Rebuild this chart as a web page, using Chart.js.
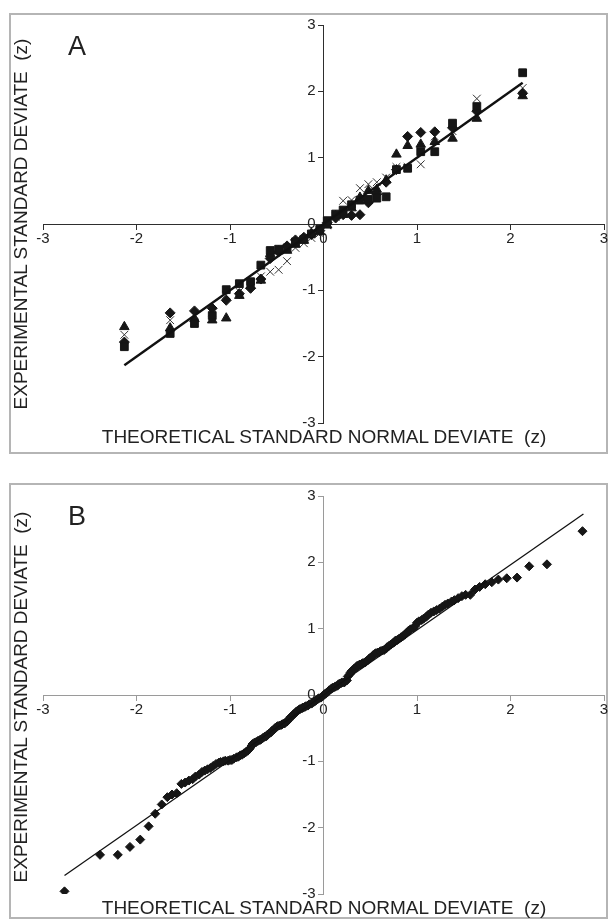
<!DOCTYPE html>
<html>
<head>
<meta charset="utf-8">
<script src="https://cdn.jsdelivr.net/npm/chart.js@4.4.0/dist/chart.umd.min.js"></script>
<style>
  html, body { margin: 0; padding: 0; background: #fff; }
  body { width: 614px; height: 921px; position: relative; overflow: hidden;
         font-family: "Liberation Sans", Arial, Helvetica, sans-serif; color: #222; }
  .panel { position: absolute; left: 9px; width: 599px; border: 2px solid #b5b5b5; box-sizing: border-box; }
  #boxA { top: 13px; height: 441px; }
  #boxB { top: 483px; height: 436px; }
  .cv { position: absolute; left: 0; }
  #wrapA { top: 0; width: 614px; height: 460px; }
  #wrapB { top: 470px; width: 614px; height: 451px; }
  .lbl { position: absolute; white-space: pre; transform: translate(-50%, -50%); }
  .letter { font-size: 27px; }
  .xt { font-size: 19px; }
  .yt { font-size: 19px; transform: translate(-50%, -50%) rotate(-90deg); }
</style>
</head>
<body>
<div class="panel" id="boxA"></div>
<div class="panel" id="boxB"></div>
<div class="cv" id="wrapA"><canvas id="chartA" width="614" height="460"></canvas></div>
<div class="cv" id="wrapB"><canvas id="chartB" width="614" height="451"></canvas></div>

<div class="lbl letter" style="left:77px; top:46px;">A</div>
<div class="lbl yt" style="left:21px; top:224px;">EXPERIMENTAL STANDARD DEVIATE  (z)</div>
<div class="lbl xt" style="left:324px; top:437px;">THEORETICAL STANDARD NORMAL DEVIATE  (z)</div>

<div class="lbl letter" style="left:77px; top:516px;">B</div>
<div class="lbl yt" style="left:21px; top:697px;">EXPERIMENTAL STANDARD DEVIATE  (z)</div>
<div class="lbl xt" style="left:324px; top:908px;">THEORETICAL STANDARD NORMAL DEVIATE  (z)</div>

<script>
// ---------- Panel A data ----------
const aX = [-2.13,-1.64,-1.38,-1.19,-1.04,-0.90,-0.78,-0.67,-0.57,-0.48,-0.39,-0.30,-0.21,-0.13,-0.04,
             0.04, 0.13, 0.21, 0.30, 0.39, 0.48, 0.57, 0.67, 0.78, 0.90, 1.04, 1.19, 1.38, 1.64, 2.13];
const aDiamond = [-1.78,-1.34,-1.31,-1.27,-1.15,-1.05,-0.97,-0.83,-0.52,-0.42,-0.33,-0.24,-0.20,-0.16,-0.10,
                   0.02, 0.09, 0.14, 0.13, 0.14, 0.32, 0.45, 0.63, 0.82, 1.32, 1.38, 1.39, 1.45, 1.70, 1.97];
const aSquare  = [-1.85,-1.65,-1.50,-1.38,-0.99,-0.90,-0.87,-0.62,-0.40,-0.38,-0.36,-0.27,-0.23,-0.15,-0.08,
                   0.05, 0.15, 0.21, 0.29, 0.36, 0.37, 0.39, 0.41, 0.82, 0.84, 1.09, 1.09, 1.52, 1.77, 2.28];
const aTriangle= [-1.55,-1.57,-1.43,-1.45,-1.42,-1.08,-0.93,-0.85,-0.45,-0.41,-0.40,-0.31,-0.25,-0.14,-0.12,
                  -0.02, 0.12, 0.14, 0.24, 0.40, 0.50, 0.52, 0.66, 1.05, 1.18, 1.20, 1.24, 1.29, 1.59, 1.93];
const aCross   = [-1.67,-1.45,-1.37,-1.33,-1.07,-1.02,-0.90,-0.79,-0.72,-0.69,-0.56,-0.36,-0.29,-0.21,-0.14,
                  -0.02, 0.11, 0.35, 0.36, 0.54, 0.60, 0.63, 0.70, 0.86, 0.86, 0.90, 1.32, 1.40, 1.89, 2.05];
const aLineX = [-2.13, 2.13];
const aLineY = [-2.13, 2.13];

// ---------- Panel B data ----------
const bX = [-2.77,-2.39,-2.20,-2.07,-1.96,-1.87,-1.80,-1.73,-1.67,-1.62,-1.57,-1.52,-1.48,-1.44,-1.40,-1.37,-1.33,-1.30,
            -1.27,-1.24,-1.21,-1.18,-1.15,-1.12,-1.10,-1.07,-1.05,-1.02,-1.00,-0.98,-0.96,-0.93,-0.91,-0.89,-0.87,-0.85,
            -0.83,-0.81,-0.79,-0.77,-0.76,-0.74,-0.72,-0.70,-0.68,-0.67,-0.65,-0.63,-0.61,-0.60,-0.58,-0.56,-0.55,-0.53,
            -0.52,-0.50,-0.49,-0.47,-0.45,-0.44,-0.42,-0.41,-0.39,-0.38,-0.36,-0.35,-0.33,-0.32,-0.30,-0.29,-0.28,-0.26,
            -0.25,-0.23,-0.22,-0.20,-0.19,-0.17,-0.16,-0.15,-0.13,-0.12,-0.10,-0.09,-0.08,-0.06,-0.05,-0.03,-0.02,-0.01,
             0.01, 0.02, 0.03, 0.05, 0.06, 0.08, 0.09, 0.10, 0.12, 0.13, 0.15, 0.16, 0.17, 0.19, 0.20, 0.22, 0.23, 0.25,
             0.26, 0.28, 0.29, 0.30, 0.32, 0.33, 0.35, 0.36, 0.38, 0.39, 0.41, 0.42, 0.44, 0.45, 0.47, 0.49, 0.50, 0.52,
             0.53, 0.55, 0.56, 0.58, 0.60, 0.61, 0.63, 0.65, 0.67, 0.68, 0.70, 0.72, 0.74, 0.76, 0.77, 0.79, 0.81, 0.83,
             0.85, 0.87, 0.89, 0.91, 0.93, 0.96, 0.98, 1.00, 1.02, 1.05, 1.07, 1.10, 1.12, 1.15, 1.18, 1.21, 1.24, 1.27,
             1.30, 1.33, 1.37, 1.40, 1.44, 1.48, 1.52, 1.57, 1.62, 1.67, 1.73, 1.80, 1.87, 1.96, 2.07, 2.20, 2.39, 2.77];
const bY = [-2.96,-2.41,-2.41,-2.29,-2.18,-1.98,-1.79,-1.65,-1.54,-1.50,-1.48,-1.34,-1.32,-1.29,-1.27,-1.23,-1.20,-1.16,
            -1.14,-1.12,-1.10,-1.07,-1.04,-1.02,-1.01,-1.00,-0.99,-0.99,-0.98,-0.98,-0.96,-0.94,-0.93,-0.91,-0.90,-0.88,
            -0.86,-0.84,-0.81,-0.77,-0.74,-0.72,-0.71,-0.69,-0.68,-0.67,-0.65,-0.63,-0.62,-0.60,-0.58,-0.56,-0.54,-0.52,
            -0.50,-0.48,-0.47,-0.46,-0.45,-0.44,-0.43,-0.42,-0.40,-0.38,-0.35,-0.33,-0.31,-0.29,-0.27,-0.25,-0.24,-0.22,
            -0.21,-0.20,-0.19,-0.18,-0.17,-0.16,-0.15,-0.14,-0.13,-0.12,-0.10,-0.09,-0.08,-0.06,-0.05,-0.04,-0.03,-0.02,
             0.01, 0.02, 0.03, 0.05, 0.07, 0.09, 0.10, 0.11, 0.12, 0.13, 0.14, 0.16, 0.17, 0.18, 0.19, 0.19, 0.20, 0.22,
             0.28, 0.31, 0.34, 0.36, 0.38, 0.40, 0.42, 0.44, 0.45, 0.46, 0.47, 0.48, 0.49, 0.50, 0.52, 0.55, 0.56, 0.58,
             0.60, 0.62, 0.63, 0.64, 0.65, 0.66, 0.67, 0.68, 0.70, 0.72, 0.74, 0.76, 0.78, 0.80, 0.82, 0.83, 0.85, 0.87,
             0.89, 0.91, 0.94, 0.97, 0.99, 1.01, 1.04, 1.09, 1.11, 1.13, 1.15, 1.18, 1.21, 1.24, 1.26, 1.28, 1.30, 1.33,
             1.36, 1.38, 1.41, 1.43, 1.46, 1.49, 1.51, 1.51, 1.59, 1.63, 1.67, 1.70, 1.74, 1.76, 1.77, 1.94, 1.97, 2.47];
const bLineX = [-2.77, 2.78];
const bLineY = [-2.72, 2.73];

const axisTicks = [-3, -2, -1, 0, 1, 2, 3];

// ---------- helpers ----------
const zip = (xs, ys) => xs.map((x, i) => ({ x: x, y: ys[i] }));
const INK = '#161616';
const FONT = { family: '"Liberation Sans", Arial, sans-serif', size: 15 };

// y labels of a centre-positioned axis sit flush on the axis line; move them left of the tick marks
const yLabelShift = {
  id: 'yLabelShift',
  beforeDraw(chart) {
    const s = chart.scales.y;
    if (!s || typeof s._computeLabelItems !== 'function') return;
    const items = s._computeLabelItems(chart.chartArea);
    items.forEach(it => { if (it.options && it.options.translation) it.options.translation[0] -= 8; });
    s._labelItems = items;
  }
};

function scalesFor(axisColor) {
  const common = {
    type: 'linear', min: -3, max: 3,
    afterBuildTicks: (s) => { s.ticks = axisTicks.map(v => ({ value: v })); },
    grid: { display: true, drawOnChartArea: false, drawTicks: true, tickLength: 5, color: axisColor, lineWidth: 1 },
    border: { display: true, color: axisColor, width: 1 },
    ticks: { color: '#222', font: FONT, callback: (v) => String(v) }
  };
  return {
    x: Object.assign({}, common, {
      position: { y: 0 },
      ticks: Object.assign({}, common.ticks, { padding: 1, maxRotation: 0, autoSkip: false }),
      afterFit: (s) => { s.height = 0; }
    }),
    y: Object.assign({}, common, {
      position: { x: 0 },
      ticks: Object.assign({}, common.ticks, { padding: 4, autoSkip: false }),
      afterFit: (s) => { s.width = 0; }
    })
  };
}

Chart.defaults.devicePixelRatio = 1;

// ---------- Chart A ----------
new Chart(document.getElementById('chartA'), {
  type: 'scatter',
  data: {
    datasets: [
      { label: 'fit', data: zip(aLineX, aLineY), showLine: true, borderColor: '#111', borderWidth: 2.4,
        pointRadius: 0, fill: false },
      { label: 'square', data: zip(aX, aSquare), pointStyle: 'rect', pointRadius: 5.5,
        backgroundColor: INK, borderColor: INK, borderWidth: 1 },
      { label: 'diamond', data: zip(aX, aDiamond), pointStyle: 'rectRot', pointRadius: 5,
        backgroundColor: INK, borderColor: INK, borderWidth: 1 },
      { label: 'triangle', data: zip(aX, aTriangle), pointStyle: 'triangle', pointRadius: 5.5,
        backgroundColor: INK, borderColor: INK, borderWidth: 1 },
      { label: 'cross', data: zip(aX, aCross), pointStyle: 'crossRot', pointRadius: 5.5,
        backgroundColor: '#333', borderColor: '#333', borderWidth: 1 }
    ]
  },
  options: {
    responsive: false, animation: false, devicePixelRatio: 1,
    layout: { padding: { left: 43, right: 10, top: 25, bottom: 37 } },
    plugins: { legend: { display: false }, tooltip: { enabled: false }, title: { display: false } },
    scales: scalesFor('#2e2e2e'),
    elements: { point: { hoverRadius: 0 } }
  },
  plugins: [yLabelShift]
});

// ---------- Chart B ----------
new Chart(document.getElementById('chartB'), {
  type: 'scatter',
  data: {
    datasets: [
      { label: 'fit', data: zip(bLineX, bLineY), showLine: true, borderColor: '#111', borderWidth: 1.3,
        pointRadius: 0, fill: false },
      { label: 'data', data: zip(bX, bY), pointStyle: 'rectRot', pointRadius: 4.5,
        backgroundColor: INK, borderColor: INK, borderWidth: 1 }
    ]
  },
  options: {
    responsive: false, animation: false, devicePixelRatio: 1,
    layout: { padding: { left: 43, right: 10, top: 26, bottom: 27 } },
    plugins: { legend: { display: false }, tooltip: { enabled: false }, title: { display: false } },
    scales: scalesFor('#9a9a9a'),
    elements: { point: { hoverRadius: 0 } }
  },
  plugins: [yLabelShift]
});
</script>
</body>
</html>
